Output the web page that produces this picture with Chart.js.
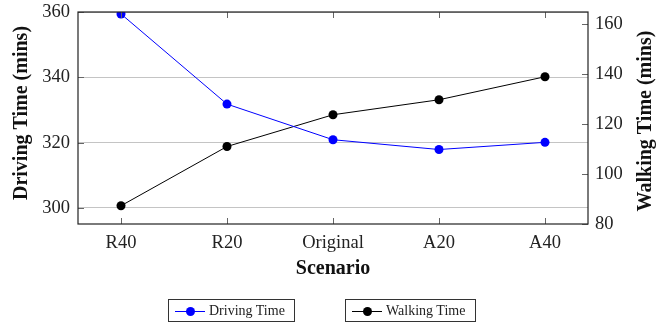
<!DOCTYPE html>
<html>
<head>
<meta charset="utf-8">
<script src="https://cdn.jsdelivr.net/npm/chart.js@4.4.1/dist/chart.umd.min.js"></script>
<style>
  html, body { margin: 0; padding: 0; background: #fff; }
  #wrap { position: relative; width: 656px; height: 328px; }
  #chart { position: absolute; left: 0; top: 0; }
  .leg {
    position: absolute; top: 299px; height: 23px; box-sizing: border-box;
    border: 1px solid #333; display: flex; align-items: center;
    font-family: 'Liberation Serif', serif; font-size: 14px; color: #222;
  }
  .leg .sw { position: relative; width: 30px; height: 10px; margin: 0 4px 0 6px; }
  .leg .sw::before { content: ''; position: absolute; left: 0; right: 0; top: 5px; height: 1px; background: var(--c); }
  .leg .sw::after { content: ''; position: absolute; left: 11px; top: 1px; width: 9px; height: 9px; border-radius: 50%; background: var(--c); }
</style>
</head>
<body>
<div id="wrap">
  <canvas id="chart" width="656" height="328"></canvas>
  <div class="leg" style="left:168px;width:127px;"><span class="sw" style="--c:#0000ff"></span>Driving Time</div>
  <div class="leg" style="left:345px;width:131px;"><span class="sw" style="--c:#000"></span>Walking Time</div>
</div>
<script>
const scenarios   = ['R40', 'R20', 'Original', 'A20', 'A40'];
const drivingTime = [359.4, 331.8, 320.9, 317.9, 320.1];
const walkingTime = [87.3, 111.0, 123.7, 129.7, 138.9];
const drivingTicks = [300, 320, 340, 360];
const walkingTicks = [80, 100, 120, 140, 160];

const FONT = "'Liberation Serif', serif";

// inward ticks, frame and axis titles (pgfplots look)
const framePlugin = {
  id: 'frame',
  afterDatasetsDraw(chart) {
    const { ctx, chartArea: a, scales } = chart;
    ctx.save();
    ctx.strokeStyle = '#666';
    ctx.lineWidth = 1;
    ctx.beginPath();
    scales.x.ticks.forEach(t => {
      const px = Math.round(scales.x.getPixelForValue(t.value)) + 0.5;
      ctx.moveTo(px, a.bottom); ctx.lineTo(px, a.bottom - 6);
      ctx.moveTo(px, a.top);    ctx.lineTo(px, a.top + 6);
    });
    scales.y.ticks.forEach(t => {
      const py = Math.round(scales.y.getPixelForValue(t.value)) + 0.5;
      ctx.moveTo(a.left, py); ctx.lineTo(a.left + 6, py);
    });
    scales.y2.ticks.forEach(t => {
      const py = Math.round(scales.y2.getPixelForValue(t.value)) + 0.5;
      ctx.moveTo(a.right, py); ctx.lineTo(a.right - 6, py);
    });
    ctx.stroke();

    ctx.strokeStyle = '#222';
    ctx.lineWidth = 1.2;
    ctx.strokeRect(a.left, a.top, a.right - a.left, a.bottom - a.top);

    ctx.fillStyle = '#111';
    ctx.font = `bold 20px ${FONT}`;
    ctx.textAlign = 'center';
    ctx.textBaseline = 'middle';
    ctx.fillText('Scenario', (a.left + a.right) / 2, 269);

    ctx.translate(22, 113);
    ctx.rotate(-Math.PI / 2);
    ctx.fillText('Driving Time (mins)', 0, 0);
    ctx.restore();

    ctx.save();
    ctx.fillStyle = '#111';
    ctx.font = `bold 20px ${FONT}`;
    ctx.textAlign = 'center';
    ctx.textBaseline = 'middle';
    ctx.translate(646, 121);
    ctx.rotate(-Math.PI / 2);
    ctx.fillText('Walking Time (mins)', 0, 0);
    ctx.restore();
  }
};

const margin = 0.4057; // category inset at both ends

new Chart(document.getElementById('chart'), {
  type: 'line',
  data: {
    datasets: [
      {
        label: 'Driving Time',
        data: drivingTime.map((v, i) => ({ x: i, y: v })),
        yAxisID: 'y',
        borderColor: '#0000ff', backgroundColor: '#0000ff',
        borderWidth: 1, pointRadius: 4.5, pointBorderWidth: 0, tension: 0,
      },
      {
        label: 'Walking Time',
        data: walkingTime.map((v, i) => ({ x: i, y: v })),
        yAxisID: 'y2',
        borderColor: '#000', backgroundColor: '#000',
        borderWidth: 1, pointRadius: 4.5, pointBorderWidth: 0, tension: 0,
      },
    ],
  },
  options: {
    responsive: false,
    devicePixelRatio: 1,
    animation: false,
    layout: { padding: { top: 12, left: 0, right: 0, bottom: 0 } },
    plugins: { legend: { display: false }, tooltip: { enabled: false } },
    scales: {
      x: {
        type: 'linear',
        min: -margin, max: scenarios.length - 1 + margin,
        afterFit: s => { s.height = 104; s.paddingLeft = 0; s.paddingRight = 0; },
        afterBuildTicks: s => { s.ticks = scenarios.map((_, i) => ({ value: i })); },
        ticks: {
          padding: 0, color: '#222', font: { family: FONT, size: 18.5 },
          callback: v => scenarios[v],
          maxRotation: 0, autoSkip: false,
        },
        grid: { display: false },
        border: { display: false },
      },
      y: {
        position: 'left',
        min: 295.1, max: 360,
        afterFit: s => { s.width = 78; s.paddingTop = 0; s.paddingBottom = 0; },
        afterBuildTicks: s => { s.ticks = drivingTicks.map(v => ({ value: v })); },
        ticks: { padding: 8, color: '#222', font: { family: FONT, size: 18.5 } },
        grid: { color: '#c4c4c4', lineWidth: 1, drawTicks: false },
        border: { display: false },
      },
      y2: {
        position: 'right',
        min: 80, max: 164.8,
        afterFit: s => { s.width = 68; s.paddingTop = 0; s.paddingBottom = 0; },
        afterBuildTicks: s => { s.ticks = walkingTicks.map(v => ({ value: v })); },
        ticks: { padding: 7, color: '#222', font: { family: FONT, size: 18.5 } },
        grid: { display: false, drawTicks: false },
        border: { display: false },
      },
    },
  },
  plugins: [framePlugin],
});
</script>
</body>
</html>
